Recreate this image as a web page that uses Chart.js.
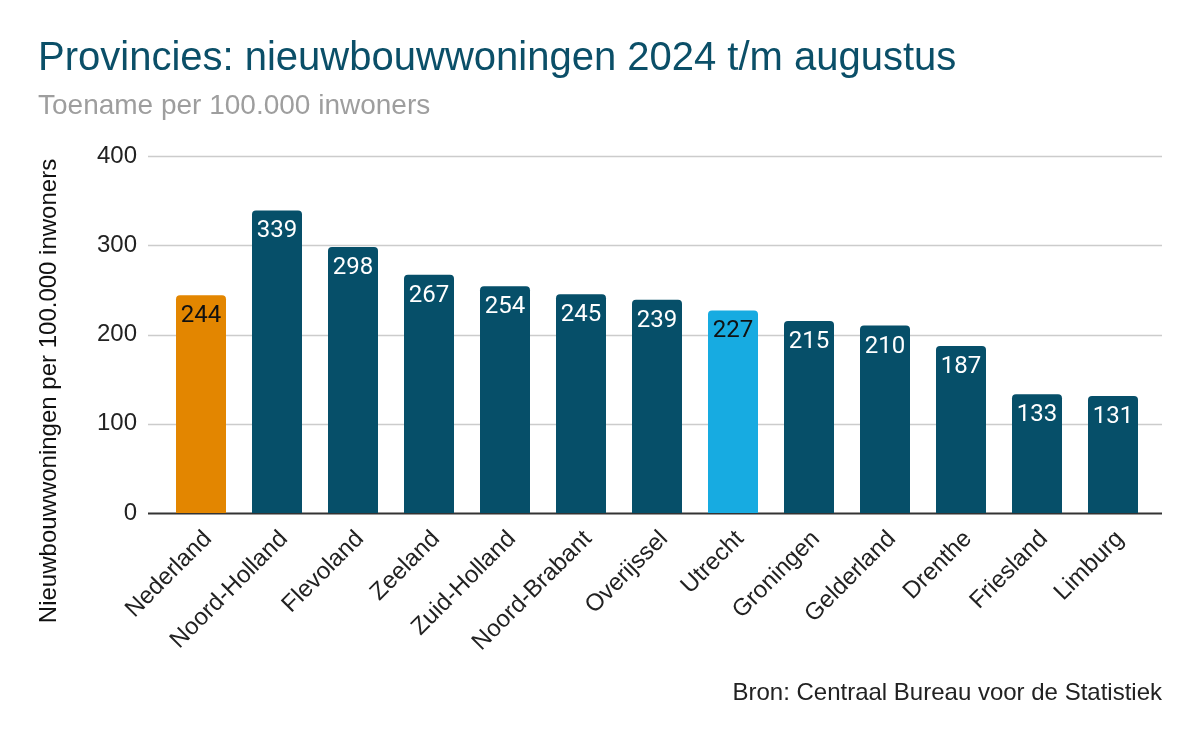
<!DOCTYPE html>
<html>
<head>
<meta charset="utf-8">
<script src="https://cdn.jsdelivr.net/npm/chart.js@4"></script>
<style>
  html, body { margin: 0; padding: 0; background: #fff; }
  #wrap { width: 1199px; height: 742px; }
</style>
</head>
<body>
<div id="wrap"><canvas id="barChart" width="1199" height="742"></canvas></div>
<script>
"use strict";

const provinces = ["Nederland", "Noord-Holland", "Flevoland", "Zeeland", "Zuid-Holland", "Noord-Brabant",
    "Overijssel", "Utrecht", "Groningen", "Gelderland", "Drenthe", "Friesland", "Limburg"];
const growth = [244, 339, 298, 267, 254, 245, 239, 227, 215, 210, 187, 133, 131];
const yTicks = [0, 100, 200, 300, 400];

const titleText = "Provincies: nieuwbouwwoningen 2024 t/m augustus";
const subtitleText = "Toename per 100.000 inwoners";
const yTitleText = "Nieuwbouwwoningen per 100.000 inwoners";
const sourceText = "Bron: Centraal Bureau voor de Statistiek";

const sans = "'Liberation Sans', Arial, sans-serif";

// kleuren: Nederland oranje, Utrecht lichtblauw, rest donker
let barColors = provinces.map(p => p === "Nederland" ? "#e38600" : p === "Utrecht" ? "#17abe1" : "#064f69");
let labelColors = provinces.map(p => (p === "Nederland" || p === "Utrecht") ? "#111" : "#fff");

const decorPlugin = {
    id: "decor",
    beforeDatasetsDraw(chart) {
        const ctx = chart.ctx;
        const y = chart.scales.y;
        ctx.save();
        yTicks.forEach(v => {
            const py = Math.round(y.getPixelForValue(v)) + 0.5;
            ctx.beginPath();
            ctx.moveTo(148, py);
            ctx.lineTo(1162, py);
            ctx.lineWidth = v === 0 ? 2 : 1.5;
            ctx.strokeStyle = v === 0 ? "#333" : "#cccccc";
            ctx.stroke();
        });
        ctx.restore();
    },
    afterDatasetsDraw(chart) {
        const ctx = chart.ctx;
        const meta = chart.getDatasetMeta(0);
        ctx.save();
        ctx.font = "400 24px Roboto, sans-serif";
        ctx.textAlign = "center";
        ctx.textBaseline = "alphabetic";
        meta.data.forEach((bar, i) => {
            ctx.fillStyle = labelColors[i];
            ctx.fillText(String(growth[i]), bar.x, bar.y + 27);
        });
        ctx.restore();
    },
    afterDraw(chart) {
        const ctx = chart.ctx;
        ctx.save();
        ctx.textBaseline = "alphabetic";
        ctx.textAlign = "left";
        ctx.fillStyle = "#0b4f68";
        ctx.font = "40px " + sans;
        ctx.fillText(titleText, 38, 70);
        ctx.fillStyle = "#9e9e9e";
        ctx.font = "28px " + sans;
        ctx.fillText(subtitleText, 38, 114);

        ctx.fillStyle = "#222";
        ctx.font = "24px " + sans;
        ctx.textAlign = "right";
        ctx.fillText(sourceText, 1162, 700);

        ctx.translate(56, 391);
        ctx.rotate(-Math.PI / 2);
        ctx.textAlign = "center";
        ctx.fillStyle = "#111";
        ctx.fillText(yTitleText, 0, 0);
        ctx.restore();
    }
};

new Chart("barChart", {
    type: "bar",
    data: {
        labels: provinces,
        datasets: [{
            data: growth,
            backgroundColor: barColors,
            borderRadius: { topLeft: 4, topRight: 4, bottomLeft: 0, bottomRight: 0 },
            borderSkipped: "start",
            categoryPercentage: 1,
            barPercentage: 50 / 76
        }]
    },
    options: {
        responsive: false,
        animation: false,
        layout: { padding: { top: 156, right: 48, left: 0, bottom: 0 } },
        plugins: {
            legend: { display: false },
            title: { display: false },
            tooltip: { enabled: false }
        },
        scales: {
            x: {
                grid: { display: false },
                border: { display: false },
                ticks: {
                    minRotation: 45,
                    maxRotation: 45,
                    padding: 4,
                    labelOffset: 7,
                    color: "#222",
                    font: { family: sans, size: 24 }
                },
                afterFit(scale) { scale.height = 229; }
            },
            y: {
                min: 0,
                max: 400,
                grid: { display: false, drawTicks: false },
                border: { display: false },
                ticks: {
                    stepSize: 100,
                    padding: 26,
                    color: "#222",
                    font: { family: sans, size: 24 }
                },
                afterFit(scale) { scale.width = 163; }
            }
        }
    },
    plugins: [decorPlugin]
});
</script>
</body>
</html>
